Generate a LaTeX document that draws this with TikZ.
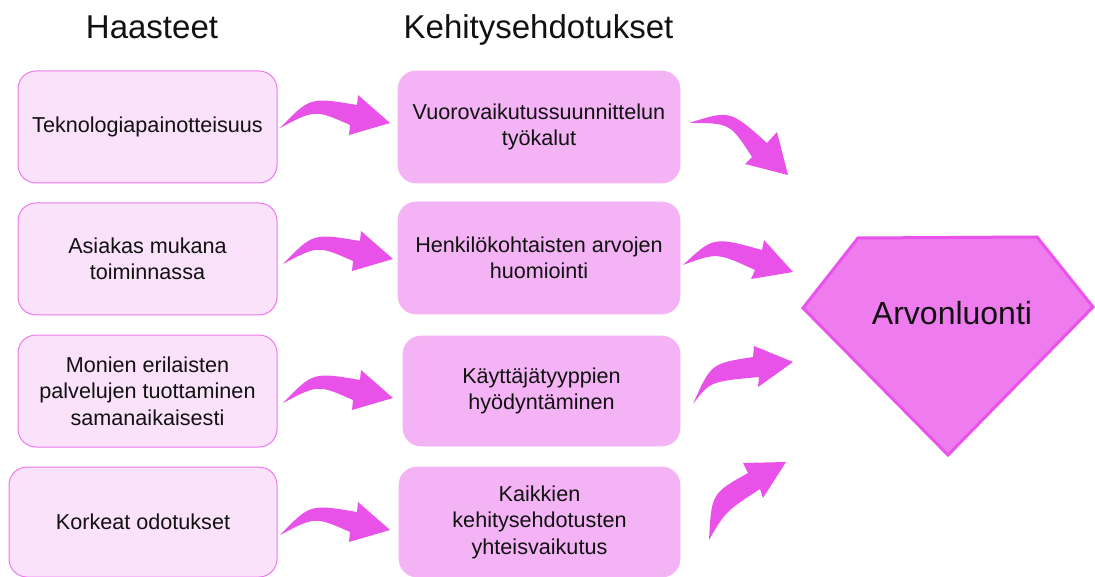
\documentclass[tikz,border=0pt]{standalone}
\usepackage{fontspec}
\setmainfont{Liberation Sans}
\definecolor{leftfill}{HTML}{FAE2FA}
\definecolor{leftdraw}{HTML}{EE78EE}
\definecolor{midfill}{HTML}{F4B3F4}
\definecolor{arrowc}{HTML}{E952E9}
\definecolor{gemfill}{HTML}{EE7CEE}
\definecolor{gemdraw}{HTML}{E953E9}
\definecolor{txt}{HTML}{111111}
\newcommand\curvedblock[8]{%
  \fill[arrowc] (#1) .. controls (#2) .. (#3) -- (#4) -- (#5) -- (#6) -- (#7) .. controls (#8) .. (#1) -- cycle;}
\begin{document}
\begin{tikzpicture}[x=1pt,y=-1pt,
  every node/.style={text=txt},
  body/.style={font=\fontsize{21.6}{26.5}\selectfont, align=center, inner sep=0pt},
  leftbox/.style={body, draw=leftdraw, fill=leftfill, line width=1pt, rounded corners=18pt, minimum width=259pt, minimum height=112pt},
  midbox/.style={body, draw=midfill, fill=midfill, line width=0.6pt, rounded corners=18pt, minimum width=282pt, minimum height=112pt},
  title/.style={font=\fontsize{33}{40}\selectfont, anchor=base, inner sep=0pt}]
\useasboundingbox (0,0) rectangle (1095,577);

% titles
\node[title] (t1) at (152,39) {Haasteet};
\node[title] (t2) at (538.5,39) {Kehitysehdotukset};

% left boxes
\node[leftbox] (l1) at (147.5,127) {Teknologiapainotteisuus};
\node[leftbox] (l2) at (147.5,259) {Asiakas mukana\\toiminnassa};
\node[leftbox] (l3) at (147.5,391) {Monien erilaisten\\palvelujen tuottaminen\\samanaikaisesti};
\node[leftbox, minimum width=268pt, minimum height=110pt] (l4) at (143,522) {Korkeat odotukset};

% middle boxes
\node[midbox] (m1) at (539,127) {Vuorovaikutussuunnittelun\\työkalut};
\node[midbox] (m2) at (539,258) {Henkilökohtaisten arvojen\\huomiointi};
\node[midbox, minimum width=277pt, minimum height=110pt] (m3) at (541.5,391) {Käyttäjätyyppien\\hyödyntäminen};
\node[midbox, minimum width=281pt, minimum height=110pt] (m4) at (539.5,522) {Kaikkien\\kehitysehdotusten\\yhteisvaikutus};

% left -> middle arrows
\foreach \tx/\ty in {280/128, 283/264, 283/403, 280/535}{
  \begin{scope}[shift={(\tx,\ty)}]
    \curvedblock{0,0}{30,-31}{77,-23}{78,-33}{110,-5}{69,7}{70,-3}{35,-18.5}
  \end{scope}
}

% middle -> gem arrows
\curvedblock{689,123}{730,110}{767,143}{777,132}{788,175}{745,164}{752,157}{730,123}
\curvedblock{683,265}{713.5,236.5}{762,250}{764,240}{793,272}{751,279}{755,270}{717,252.5}
\curvedblock{693,404}{711,363.5}{753,357}{754,346}{793,362}{758,387}{759,377}{710,381.5}
\curvedblock{709,540}{711.5,493.5}{748,473}{743,463}{786,462}{763,498}{760,489}{725.5,511.5}

% gem
\coordinate (g1) at (858,238);
\coordinate (g2) at (1037,237);
\coordinate (g3) at (1093,307);
\coordinate (g4) at (948,455);
\coordinate (g5) at (803,308);
\draw[gemdraw, fill=gemfill, line width=3pt, line join=miter] (g1) -- (g2) -- (g3) -- (g4) -- (g5) -- cycle;
\node[font=\fontsize{32}{38}\selectfont, anchor=base, inner sep=0pt] (gem) at (952,325) {Arvonluonti};
\end{tikzpicture}
\end{document}
